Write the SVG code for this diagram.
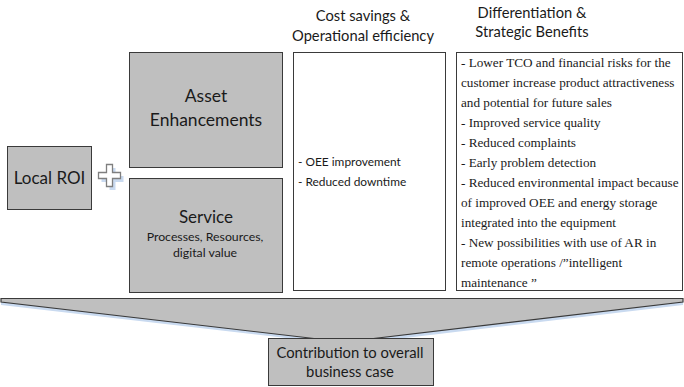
<svg xmlns="http://www.w3.org/2000/svg" width="684" height="387" viewBox="0 0 684 387">
<style>
.g{fill:#bfbfbf;stroke:#3a3a3a;stroke-width:1}
.w{fill:#ffffff;stroke:#3a3a3a;stroke-width:1}
.s{font-family:Lato,"Open Sans","Liberation Sans",sans-serif;fill:#1a1a1a}
.t{font-family:"Liberation Serif","Times New Roman",serif;font-size:13.2px;fill:#1a1a1a}
</style>
<rect width="684" height="387" fill="#ffffff"/>
<g id="header-cost">
<text class="s" font-size="14.7" text-anchor="middle" x="363" y="21">Cost savings &amp;</text>
<text class="s" font-size="14.7" text-anchor="middle" x="363" y="41">Operational efficiency</text>
</g>
<g id="header-diff">
<text class="s" font-size="14.7" text-anchor="middle" x="532" y="18">Differentiation &amp;</text>
<text class="s" font-size="14.7" text-anchor="middle" x="532" y="37">Strategic Benefits</text>
</g>
<g id="local-roi">
<rect class="g" x="7.5" y="146.5" width="84" height="63"/>
<text class="s" font-size="17" text-anchor="middle" x="49.5" y="184">Local ROI</text>
</g>
<g id="plus">
<path d="M108.5,166.5h6v8h8v6h-8v8h-6v-8h-8v-6h8z" fill="#c9daf0" transform="translate(1,1.5)"/>
<path d="M106.5,164.5h6v8h8v6h-8v8h-6v-8h-8v-6h8z" fill="#ffffff" stroke="#7f7f7f" stroke-width="1.3"/>
</g>
<g id="asset">
<rect class="g" x="129.5" y="52.5" width="153" height="115"/>
<text class="s" font-size="17.5" text-anchor="middle" x="206" y="102">Asset</text>
<text class="s" font-size="17.5" text-anchor="middle" x="206" y="126">Enhancements</text>
</g>
<g id="service">
<rect class="g" x="129.5" y="178.5" width="153" height="114"/>
<text class="s" font-size="17" text-anchor="middle" x="206" y="223">Service</text>
<text class="s" font-size="12.3" text-anchor="middle" x="205" y="241">Processes, Resources,</text>
<text class="s" font-size="12.3" text-anchor="middle" x="205" y="257">digital value</text>
</g>
<g id="cost-box">
<rect class="w" x="293.5" y="52.5" width="152" height="238"/>
<text class="s" font-size="11.9" x="298" y="166">- OEE improvement</text>
<text class="s" font-size="11.9" x="298" y="186">- Reduced downtime</text>
</g>
<g id="diff-box">
<rect class="w" x="456.5" y="52.5" width="226" height="238"/>
<text class="t" x="461" y="67">- Lower TCO and financial risks for the</text>
<text class="t" x="461" y="87">customer increase product attractiveness</text>
<text class="t" x="461" y="107">and potential for future sales</text>
<text class="t" x="461" y="127">- Improved service quality</text>
<text class="t" x="461" y="147">- Reduced complaints</text>
<text class="t" x="461" y="167">- Early problem detection</text>
<text class="t" x="461" y="187">- Reduced environmental impact because</text>
<text class="t" x="461" y="207">of improved OEE and energy storage</text>
<text class="t" x="461" y="227">integrated into the equipment</text>
<text class="t" x="461" y="247">- New possibilities with use of AR in</text>
<text class="t" x="461" y="267">remote operations /”intelligent</text>
<text class="t" x="461" y="287">maintenance ”</text>
</g>
<g id="connectors">
<polygon points="1,301 683,301 683,305 346,345 1,305" fill="#c9daf0"/>
<polygon points="1,298.5 683,298.5 683,302 344,342 1,302" fill="#bfbfbf" stroke="#3a3a3a" stroke-width="1.2"/>
</g>
<g id="contribution">
<rect class="g" x="268.5" y="338.5" width="165" height="47"/>
<text class="s" font-size="14.8" text-anchor="middle" x="350" y="358">Contribution to overall</text>
<text class="s" font-size="14.8" text-anchor="middle" x="350" y="377">business case</text>
</g>
</svg>
